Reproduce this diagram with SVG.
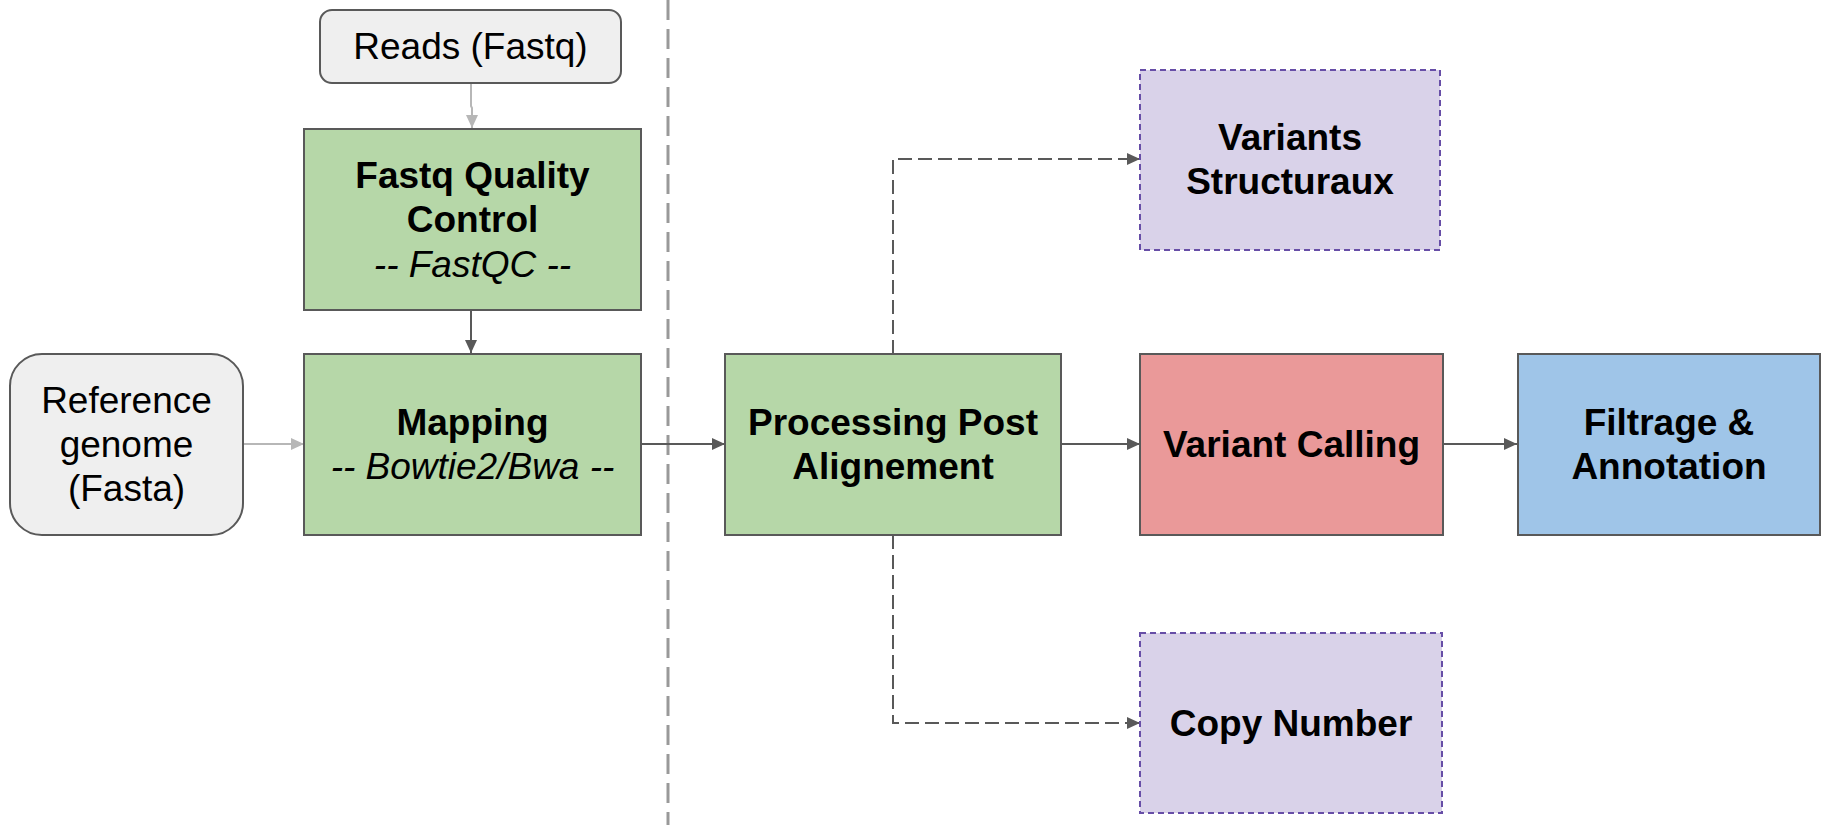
<svg xmlns="http://www.w3.org/2000/svg" width="1827" height="825" viewBox="0 0 1827 825">
<style>
.t{font-family:"Liberation Sans",Arial,sans-serif;font-size:37px;fill:#000;text-anchor:middle}
.b{font-weight:bold}
.i{font-style:italic}
.box{stroke:#595959;stroke-width:2}
.green{fill:#b6d7a8}
.grey{fill:#efefef}
.red{fill:#ea9999}
.blue{fill:#9fc5e8}
.purple{fill:#d9d2e9;stroke:#674ea7;stroke-width:2;stroke-dasharray:6 4}
.dk{fill:none;stroke:#595959;stroke-width:2}
.lt{fill:none;stroke:#b7b7b7;stroke-width:2}
.dash{stroke-dasharray:14 6}
</style>
<defs>
<marker id="ad" markerUnits="userSpaceOnUse" markerWidth="14" markerHeight="12" refX="13" refY="6" orient="auto"><path d="M0,0 L13,6 L0,12 z" fill="#595959"/></marker>
<marker id="al" markerUnits="userSpaceOnUse" markerWidth="14" markerHeight="12" refX="13" refY="6" orient="auto"><path d="M0,0 L13,6 L0,12 z" fill="#b7b7b7"/></marker>
</defs>
<rect width="1827" height="825" fill="#fff"/>
<line x1="668" y1="0" x2="668" y2="825" stroke="#999999" stroke-width="3" stroke-dasharray="20 9"/>
<g id="connectors">
<path class="lt" d="M471,83 V106 L472,108 V128" marker-end="url(#al)"/>
<path class="dk" d="M471,310 V353" marker-end="url(#ad)"/>
<path class="lt" d="M243,444 H304" marker-end="url(#al)"/>
<path class="dk" d="M641,444 H725" marker-end="url(#ad)"/>
<path class="dk" d="M1061,444 H1140" marker-end="url(#ad)"/>
<path class="dk" d="M1443,444 H1517" marker-end="url(#ad)"/>
<path class="dk dash" d="M893,354 V159 H1140" marker-end="url(#ad)"/>
<path class="dk dash" d="M893,535 V723 H1140" marker-end="url(#ad)"/>
</g>
<g id="reads">
<rect class="box grey" x="320" y="10" width="301" height="73" rx="12"/>
<text class="t" x="470.5" y="59">Reads (Fastq)</text>
</g>
<g id="fastqc">
<rect class="box green" x="304" y="129" width="337" height="181"/>
<text class="t b" x="472.5" y="188">Fastq Quality</text>
<text class="t b" x="472.5" y="232">Control</text>
<text class="t i" x="472.5" y="277">-- FastQC --</text>
</g>
<g id="reference">
<rect class="box grey" x="10" y="354" width="233" height="181" rx="32"/>
<text class="t" x="126.5" y="413">Reference</text>
<text class="t" x="126.5" y="457">genome</text>
<text class="t" x="126.5" y="501">(Fasta)</text>
</g>
<g id="mapping">
<rect class="box green" x="304" y="354" width="337" height="181"/>
<text class="t b" x="472.5" y="435">Mapping</text>
<text class="t i" x="472.5" y="479">-- Bowtie2/Bwa --</text>
</g>
<g id="processing">
<rect class="box green" x="725" y="354" width="336" height="181"/>
<text class="t b" x="893" y="435">Processing Post</text>
<text class="t b" x="893" y="479">Alignement</text>
</g>
<g id="structural">
<rect class="purple" x="1140" y="70" width="300" height="180"/>
<text class="t b" x="1290" y="150">Variants</text>
<text class="t b" x="1290" y="194">Structuraux</text>
</g>
<g id="calling">
<rect class="box red" x="1140" y="354" width="303" height="181"/>
<text class="t b" x="1291.5" y="457">Variant Calling</text>
</g>
<g id="copynumber">
<rect class="purple" x="1140" y="633" width="302" height="180"/>
<text class="t b" x="1291" y="736">Copy Number</text>
</g>
<g id="filtrage">
<rect class="box blue" x="1518" y="354" width="302" height="181"/>
<text class="t b" x="1669" y="435">Filtrage &amp;</text>
<text class="t b" x="1669" y="479">Annotation</text>
</g>
</svg>
